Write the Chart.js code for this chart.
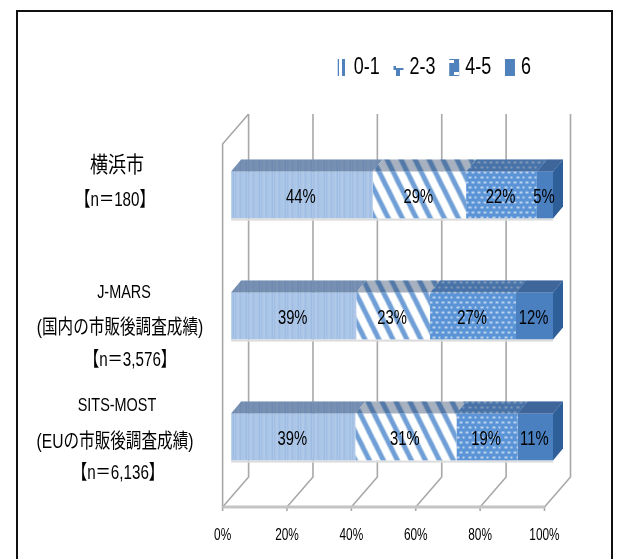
<!DOCTYPE html>
<html><head><meta charset="utf-8">
<style>html,body{margin:0;padding:0;background:#fff}canvas{display:block}</style>
<script src="https://cdn.jsdelivr.net/npm/chart.js@4"></script>
</head><body><canvas id="c" width="618" height="559"></canvas>
<script>
const categories = [
  ["横浜市", "【n＝180】"],
  ["J-MARS", "(国内の市販後調査成績)", "【n＝3,576】"],
  ["SITS-MOST", "(EUの市販後調査成績)", "【n＝6,136】"]
];
const seriesNames = ["0-1", "2-3", "4-5", "6"];
const v01 = [44, 38.9, 38.6];
const v23 = [29, 22.9, 31.4];
const v45 = [22, 26.7, 19];
const v6 = [5, 11.5, 11];

const latin = '"Liberation Sans","Noto Sans CJK JP",sans-serif';

// style only: per-line label placement
const labelStyle = [
  [{x:117,dy:-39,size:22,k:0.82},{x:115,dy:-4,size:20,k:0.76}],
  [{x:124,dy:-33,size:19,k:0.76},{x:120,dy:3,size:20,k:0.78},{x:130,dy:35,size:20,k:0.76}],
  [{x:117,dy:-41,size:19,k:0.76},{x:115,dy:-4,size:20,k:0.78},{x:118,dy:27,size:20,k:0.76}]
];
const DEPTH = {x:10, y:12};
const SHIFT = {x:8.5, y:-9.5};
const WALL = {x:26, y:30};
const LEGEND_TEXT_SHIFT = 5.5;

const canvas=document.getElementById('c');
const ctx0=canvas.getContext('2d');
// The reference uses a condensed face: all text is drawn horizontally condensed.
const baseK=0.74, legendK=0.78;
let textK=baseK;
const rawFill=ctx0.fillText.bind(ctx0);
ctx0.fillText=function(t,x,y,m){
  ctx0.save();
  const left=ctx0.textAlign==='left';
  ctx0.translate(x-(left?LEGEND_TEXT_SHIFT:0),y);
  ctx0.scale(left?legendK:textK,1);
  rawFill(t,0,0);
  ctx0.restore();
};

function tile(w,h,draw){
  const c=document.createElement('canvas');c.width=w;c.height=h;
  const g=c.getContext('2d');draw(g,w,h);
  return ctx0.createPattern(c,'repeat');
}
const pStripes = tile(13,4,g=>{
  const cols=['#b4cdec','#a4c0e4','#b8d0ee','#8fb0dc','#b2cbea','#a9c4e6','#9cbae1','#b6ceec','#a6c1e5','#bad1ee','#94b4de','#afc9e9','#a2bee3'];
  cols.forEach((k,i)=>{g.fillStyle=k;g.fillRect(i,0,1,4);});
});
const pDiag = tile(14,28,g=>{
  g.fillStyle='#ffffff';g.fillRect(0,0,14,28);
  g.strokeStyle='#6f9fd6';g.lineWidth=5;
  for(let i=-14;i<=14;i+=14){g.beginPath();g.moveTo(i-1,-2);g.lineTo(i+15,30);g.stroke();}
});
const pDots = tile(12,10,g=>{
  g.fillStyle='#5a94d6';g.fillRect(0,0,12,10);
  g.fillStyle='#bcd3ef';
  [[1,1],[7,1],[4,6],[10,6]].forEach(p=>g.fillRect(p[0],p[1],3,2));
});
const solid6 = '#4a7fc0';
const legStripes = tile(6,4,g=>{g.fillStyle='#fff';g.fillRect(0,0,6,4);g.fillStyle='#4f81bd';g.fillRect(0,0,3,4);});
const legDiag = tile(11,17,g=>{g.fillStyle='#fff';g.fillRect(0,0,11,17);g.fillStyle='#4f81bd';g.fillRect(0,0,11,2);g.fillRect(0,0,4,8);g.fillRect(8,15,3,2);});
const legDots = tile(11,17,g=>{g.fillStyle='#4f81bd';g.fillRect(0,0,11,17);g.fillStyle='#fff';g.fillRect(3,4,5,3);g.fillRect(0,9,3,3);g.fillRect(8,9,3,3);});
const legendFills=[legStripes,legDiag,legDots,'#4f81bd'];

const scene = {
  id:'scene',
  afterLayout(chart){
    const l=chart.legend;
    l.left=300;l.right=577;l.top=55;l.bottom=89;
  },
  beforeDatasetsDraw(chart){
    const g=chart.ctx,x=chart.scales.x,a=chart.chartArea;
    g.save();
    g.strokeStyle='#a8a8a8';g.lineWidth=1.6;
    g.beginPath();
    g.moveTo(a.left,a.bottom);g.lineTo(a.left,a.top);g.lineTo(a.left+WALL.x,a.top-WALL.y);g.stroke();
    x.ticks.forEach(t=>{
      const p=x.getPixelForValue(t.value);
      g.beginPath();
      g.moveTo(p+WALL.x,a.top-WALL.y);g.lineTo(p+WALL.x,a.bottom-WALL.y);g.lineTo(p,a.bottom);g.lineTo(p,a.bottom+4);
      g.stroke();
    });
    g.strokeStyle='#c4c4c4';g.lineWidth=3;
    g.beginPath();g.moveTo(a.left,a.bottom);g.lineTo(a.right,a.bottom);g.stroke();
    g.restore();
    g.save();g.translate(SHIFT.x,SHIFT.y);
  },
  afterDatasetsDraw(chart){
    const g=chart.ctx;
    g.restore();
    g.save();g.translate(SHIFT.x,SHIFT.y);
    chart.data.datasets.forEach((ds,di)=>{
      chart.getDatasetMeta(di).data.forEach(el=>{
        const top=el.y-el.height/2,bot=el.y+el.height/2;
        g.beginPath();
        g.moveTo(el.base,top);g.lineTo(el.base+DEPTH.x,top-DEPTH.y);
        g.lineTo(el.x+DEPTH.x,top-DEPTH.y);g.lineTo(el.x,top);g.closePath();
        g.fillStyle=ds.backgroundColor;g.fill();
        g.fillStyle='rgba(45,70,105,0.42)';g.fill();
        g.fillStyle='#dcdcdc';g.fillRect(el.base,bot,el.x-el.base,2);
        if(di===chart.data.datasets.length-1){
          g.beginPath();
          g.moveTo(el.x,top);g.lineTo(el.x+DEPTH.x,top-DEPTH.y);
          g.lineTo(el.x+DEPTH.x,bot-DEPTH.y);g.lineTo(el.x,bot);g.closePath();
          g.fillStyle='#2f5f98';g.fill();
        }
      });
    });
    g.fillStyle='#000';g.textAlign='center';g.textBaseline='middle';
    g.font='20px '+latin;
    chart.data.datasets.forEach((ds,di)=>{
      chart.getDatasetMeta(di).data.forEach((el,i)=>{
        g.fillText(Math.round(ds.data[i])+'%',(el.x+el.base)/2-1,el.y+2.5);
      });
    });
    g.restore();
  },
  afterDraw(chart){
    const g=chart.ctx,y=chart.scales.y;
    g.save();g.fillStyle='#000';g.textAlign='center';g.textBaseline='middle';
    chart.data.labels.forEach((lines,i)=>{
      const c=y.getPixelForValue(i);
      lines.forEach((t,j)=>{
        const s=labelStyle[i][j];
        textK=s.k;
        g.font=s.size+'px '+latin;
        g.fillText(t,s.x,c+s.dy);
      });
    });
    textK=baseK;
    g.restore();
    g.save();g.strokeStyle='#111';g.lineWidth=2;
    g.beginPath();g.moveTo(17,565);g.lineTo(17,11);g.lineTo(612,11);g.lineTo(612,565);g.stroke();
    g.restore();
  }
};

new Chart(canvas,{
  type:'bar',
  plugins:[scene],
  data:{
    labels:categories,
    datasets:[
      {label:seriesNames[0],data:v01,backgroundColor:pStripes},
      {label:seriesNames[1],data:v23,backgroundColor:pDiag},
      {label:seriesNames[2],data:v45,backgroundColor:pDots},
      {label:seriesNames[3],data:v6,backgroundColor:solid6}
    ]
  },
  options:{
    indexAxis:'y',responsive:false,animation:false,
    devicePixelRatio:1,
    layout:{padding:{top:110,right:73.5,left:0,bottom:0}},
    datasets:{bar:{categoryPercentage:0.39,barPercentage:1,borderWidth:0}},
    scales:{
      x:{stacked:true,min:0,max:100,
        grid:{display:false},border:{display:false},
        ticks:{stepSize:20,color:'#000',padding:11,maxRotation:0,font:{family:latin,size:16},callback:v=>v+'%'},
        afterFit(s){s.height=52;}},
      y:{stacked:true,grid:{display:false},border:{display:false},
        ticks:{display:false},
        afterFit(s){s.width=222.6;}}
    },
    plugins:{
      tooltip:{enabled:false},
      legend:{position:'top',align:'center',
        labels:{boxWidth:10,boxHeight:17,padding:1,color:'#000',font:{family:latin,size:23},
          generateLabels(chart){
            return chart.data.datasets.map((d,i)=>({text:d.label,fillStyle:legendFills[i],strokeStyle:'rgba(0,0,0,0)',lineWidth:0,datasetIndex:i,fontColor:'#000'}));
          }}}
    }
  }
});
</script></body></html>
